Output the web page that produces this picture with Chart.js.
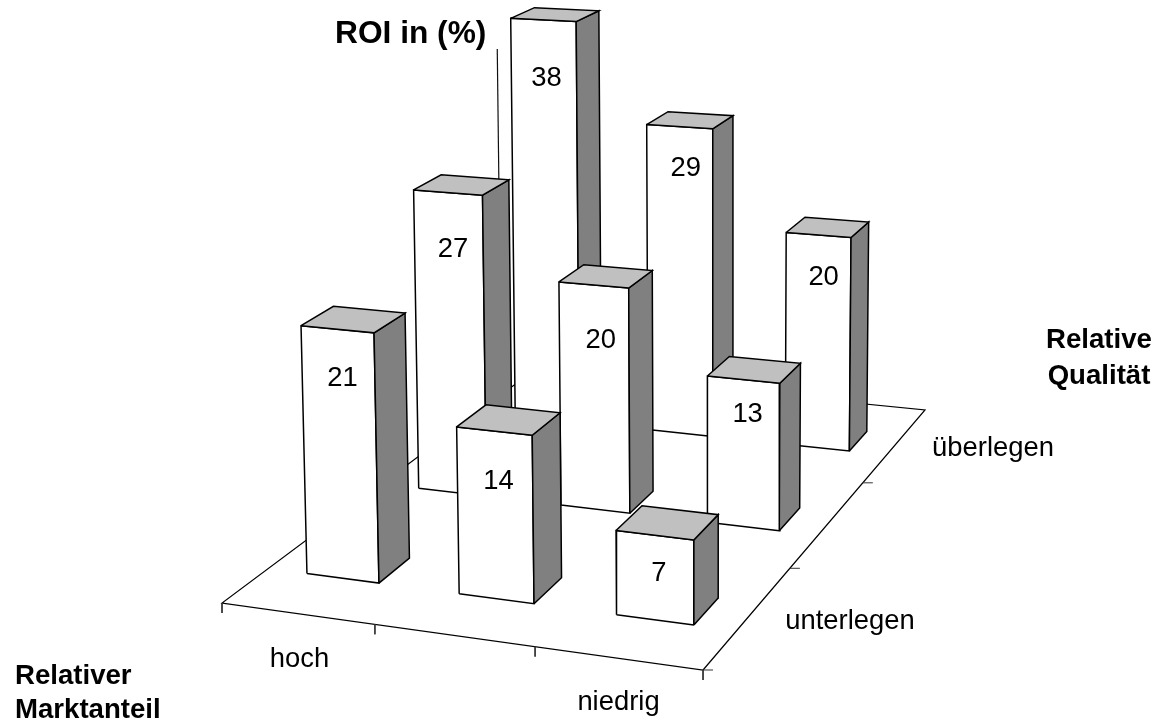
<!DOCTYPE html>
<html><head><meta charset="utf-8">
<style>html,body{margin:0;padding:0;background:#fff}#wrap{position:relative;width:1155px;height:724px}</style>
<script src="https://cdn.jsdelivr.net/npm/chart.js@4"></script>
</head><body><div id="wrap"><canvas id="c" width="1155" height="724"></canvas></div>
<script>
// ---- data ----
const marketShare = ['hoch', '', 'niedrig'];
const quality = ['unterlegen', '', 'überlegen'];
const roiUnterlegen = [21, 14, 7];
const roiMittel = [27, 20, 13];
const roiUeberlegen = [38, 29, 20];
const roiRows = [roiUnterlegen, roiMittel, roiUeberlegen];
const axisTitle = 'ROI in (%)';
const xTitle = ['Relativer', 'Marktanteil'];
const yTitle = ['Relative', 'Qualität'];

// ---- perspective projection of (u along market share, v along quality, h = ROI) ----
function project(u, v, h) {
  const X = 222 + 433.3 * u + 452.5 * v - 0.5 * h;
  const Y = 603 + 21.5 * u - 133.5 * v - 12.6 * h;
  const W0 = 1 - 0.0679 * u + 0.2655 * v;
  return { x: X / (W0 - 0.0007 * h), y: Y / (W0 - 0.0015 * h) };
}
const halfU = 0.08, halfV = 0.045, axisTop = 34;
const LINE = '#000', WHITE = '#fff', TOP = '#c0c0c0', SIDE = '#808080';
// small per-bar footprint nudges along u: [left, right], [row][col]
const nudge = [
  [[.001, .002], [.004, .004], [.003, .001]],
  [[.003, .005], [.006, .004], [.005, .003]],
  [[.008, .011], [.009, .008], [.009, 0]]
];

const painter = [];
function lineSet(pts, w, color) {
  painter.push({ data: pts, showLine: true, fill: false, borderColor: color || LINE, borderWidth: w || 1.1,
    pointRadius: 0, pointHoverRadius: 0, tension: 0, clip: false });
}
function face(pts, color) {
  painter.push({ data: [...pts, pts[0]], showLine: true, fill: 'shape', backgroundColor: color, borderColor: LINE,
    borderWidth: 1.5, borderJoinStyle: 'miter', pointRadius: 0, pointHoverRadius: 0, tension: 0, clip: false });
}

// floor
lineSet([project(0, 1, 0), project(0, 0, 0), project(1, 0, 0), project(1, 1, 0), project(0, 1, 0)], 1.2);
// ticks
[0, 1 / 3, 2 / 3, 1].forEach(u => { const p = project(u, 0, 0); lineSet([p, { x: p.x, y: p.y + 10 }], 1, '#333'); });
[0, 1 / 3, 2 / 3].forEach(v => { const p = project(1, v, 0); lineSet([p, { x: p.x + 10, y: p.y }], 1, '#333'); });
// value axis
lineSet([project(0, 0.875, 0), project(0, 0.875, axisTop)], 1.2, '#111');

// bars, from back row to front row
const tops = [];
for (let j = roiRows.length - 1; j >= 0; j--) {
  roiRows[j].forEach((val, i) => {
    const cu = (i + 0.5) / marketShare.length, cv = (j + 0.5) / quality.length;
    const u0 = cu - halfU + nudge[j][i][0], u1 = cu + halfU + nudge[j][i][1], v0 = cv - halfV, v1 = cv + halfV;
    face([project(u0, v0, 0), project(u1, v0, 0), project(u1, v0, val), project(u0, v0, val)], WHITE);
    face([project(u1, v0, 0), project(u1, v1, 0), project(u1, v1, val), project(u1, v0, val)], SIDE);
    face([project(u0, v0, val), project(u1, v0, val), project(u1, v1, val), project(u0, v1, val)], TOP);
    tops.push({ val, i, j, a: project(u0, v0, val), b: project(u1, v0, val) });
  });
}
// value label offset from the middle of each bar's front top edge [row][col]
const labelShift = [
  [[5, 57], [4, 58], [4, 46]],
  [[5, 64], [7, 63], [4, 42]],
  [[3, 66], [6, 49], [5, 50]]
];

const textPlugin = {
  id: 'texts',
  afterDatasetsDraw(chart) {
    const { ctx, scales: { x, y } } = chart;
    const T = (s, px, py, font, align) => {
      ctx.font = font; ctx.textAlign = align || 'center'; ctx.textBaseline = 'alphabetic'; ctx.fillStyle = '#000';
      ctx.fillText(s, x.getPixelForValue(px), y.getPixelForValue(py));
    };
    const REG = '27.4px "Liberation Sans"', BOLD = 'bold 27.6px "Liberation Sans"';
    tops.forEach(t => {
      const s = labelShift[t.j][t.i];
      T(String(t.val), (t.a.x + t.b.x) / 2 + s[0], (t.a.y + t.b.y) / 2 + s[1], REG);
    });
    T(marketShare[0], 299.5, 667, REG);
    T(marketShare[2], 618.5, 710, REG);
    T(quality[0], 850, 629, REG);
    T(quality[2], 993, 456, REG);
    T(axisTitle, 335, 43, 'bold 31.7px "Liberation Sans"', 'left');
    T(xTitle[0], 15, 684, BOLD, 'left');
    T(xTitle[1], 15, 718, BOLD, 'left');
    T(yTitle[0], 1099, 348, BOLD);
    T(yTitle[1], 1099, 384, BOLD);
  }
};

new Chart(document.getElementById('c'), {
  type: 'scatter',
  data: { datasets: painter.slice().reverse() },
  options: {
    responsive: false, animation: false, events: [],
    layout: { padding: 0 },
    scales: {
      x: { type: 'linear', min: 0, max: 1155, display: false },
      y: { type: 'linear', min: 0, max: 724, reverse: true, display: false }
    },
    plugins: { legend: { display: false }, tooltip: { enabled: false }, filler: { propagate: false } }
  },
  plugins: [textPlugin]
});
</script></body></html>
